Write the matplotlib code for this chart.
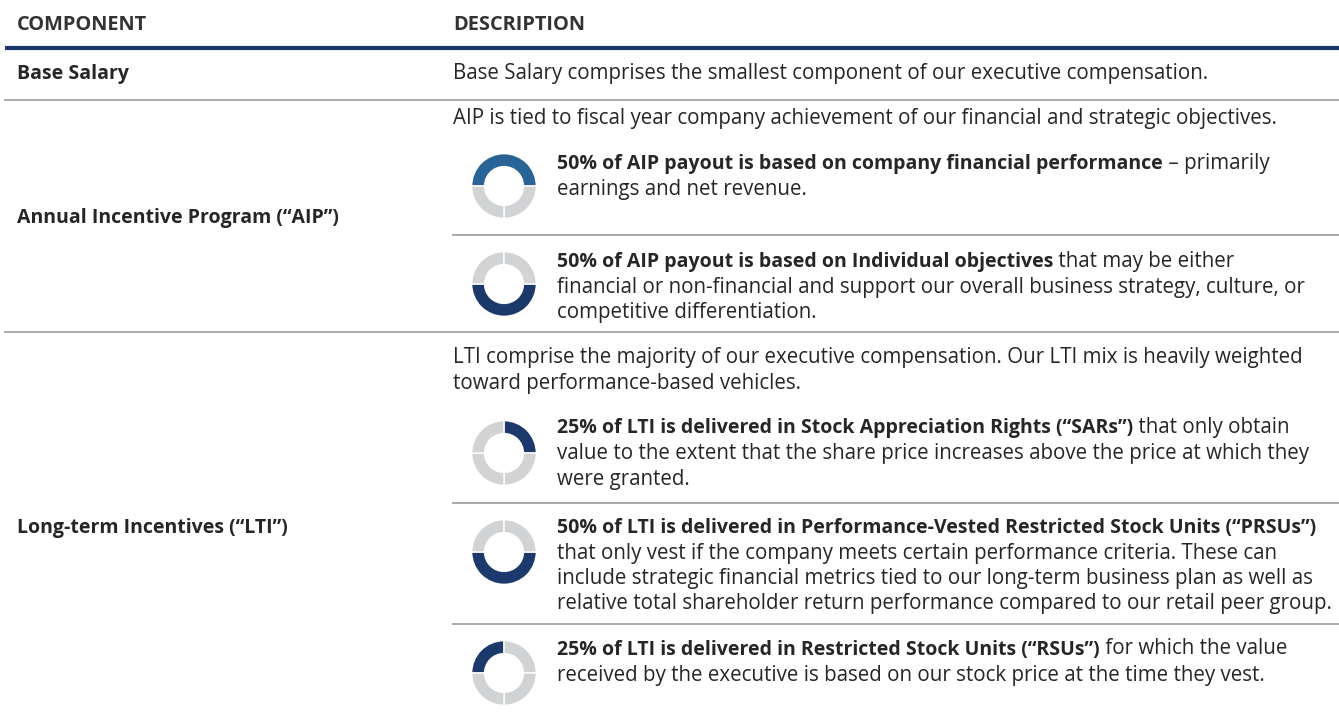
import matplotlib.pyplot as plt

plt.rcParams["font.family"] = ["Open Sans", "DejaVu Sans"]

W, H = 1339, 718
TEXT = "#262626"
NAVY = "#1b3a6b"
MID_BLUE = "#2a6496"
GREY = "#d1d3d4"
RULE = "#a9a9a9"

# table content
headers = ["COMPONENT", "DESCRIPTION"]
components = ["Base Salary", "Annual Incentive Program (“AIP”)", "Long-term Incentives (“LTI”)"]
intros = [
    ["Base Salary comprises the smallest component of our executive compensation."],
    ["AIP is tied to fiscal year company achievement of our financial and strategic objectives."],
    ["LTI comprise the majority of our executive compensation. Our LTI mix is heavily weighted",
     "toward performance-based vehicles."],
]

# donut items: share of the vehicle, where the highlighted arc starts
donut_pcts = [50, 50, 25, 50, 25]
donut_starts = [180, 0, 90, 0, 180]
donut_colors = [MID_BLUE, NAVY, NAVY, NAVY, NAVY]
donut_bold = [
    "50% of AIP payout is based on company financial performance",
    "50% of AIP payout is based on Individual objectives",
    "25% of LTI is delivered in Stock Appreciation Rights (“SARs”)",
    "50% of LTI is delivered in Performance-Vested Restricted Stock Units (“PRSUs”)",
    "25% of LTI is delivered in Restricted Stock Units (“RSUs”)",
]
donut_tail = [" – primarily", " that may be either", " that only obtain", "", " for which the value"]
donut_lines = [
    ["earnings and net revenue."],
    ["financial or non-financial and support our overall business strategy, culture, or",
     "competitive differentiation."],
    ["value to the extent that the share price increases above the price at which they",
     "were granted."],
    ["that only vest if the company meets certain performance criteria. These can",
     "include strategic financial metrics tied to our long-term business plan as well as",
     "relative total shareholder return performance compared to our retail peer group."],
    ["received by the executive is based on our stock price at the time they vest."],
]

# layout (pixels)
LEFT, COL2, DONUT_X, TEXT_X = 17, 453, 504, 557
LINE_H = 25.5
FS = 14.8      # regular body text
FSB = 14.0     # bold body text
DY = 1.5       # nudge text down a touch
row_label_y = [72, 216, 527]
intro_y = [72, 117, 356]
donut_y = [186, 284, 453, 552, 673]
donut_text_y = [162, 260, 427, 526, 648]
full_rules = [100, 332]
sub_rules = [235, 503, 624]
R = 33

fig = plt.figure(figsize=(W / 100, H / 100), dpi=100)
ax = fig.add_axes([0, 0, 1, 1])
ax.set_xlim(0, W)
ax.set_ylim(H, 0)
ax.axis("off")

# header
ax.text(LEFT, 24 + DY, headers[0], fontsize=14.4, fontweight="bold", color="#333333", va="center")
ax.text(COL2, 24 + DY, headers[1], fontsize=14.4, fontweight="bold", color="#333333", va="center")
ax.plot([5, W], [48, 48], color=NAVY, lw=3, solid_capstyle="butt")
for y in full_rules:
    ax.plot([5, W], [y, y], color=RULE, lw=1.4)
for y in sub_rules:
    ax.plot([COL2, W], [y, y], color=RULE, lw=1.4)

for label, y in zip(components, row_label_y):
    ax.text(LEFT, y + DY, label, fontsize=FSB, fontweight="bold", color=TEXT, va="center")

for lines, y in zip(intros, intro_y):
    for i, line in enumerate(lines):
        ax.text(COL2, y + DY + i * LINE_H, line, fontsize=FS, color=TEXT, va="center")

for pct, start, col, bold, tail, lines, cy, ty in zip(
        donut_pcts, donut_starts, donut_colors, donut_bold, donut_tail,
        donut_lines, donut_y, donut_text_y):
    dax = fig.add_axes([(DONUT_X - R) / W, 1 - (cy + R) / H, 2 * R / W, 2 * R / H])
    rest = 100 - pct
    vals = [pct] + [25] * (rest // 25)
    cols = [col] + [GREY] * (rest // 25)
    dax.pie(vals, colors=cols, startangle=start, counterclock=False,
            wedgeprops=dict(width=0.4, edgecolor="white", linewidth=1.0))
    dax.set_xlim(-1.02, 1.02)
    dax.set_ylim(-1.02, 1.02)
    dax.set_aspect("equal")
    dax.axis("off")

    t = ax.text(TEXT_X, ty + DY, bold, fontsize=FSB, fontweight="bold", color=TEXT, va="center")
    if tail:
        ax.annotate(tail, xy=(1, 0), xycoords=t, fontsize=FS, color=TEXT, va="bottom", ha="left")
    for i, line in enumerate(lines):
        ax.text(TEXT_X, ty + DY + (i + 1) * LINE_H, line, fontsize=FS, color=TEXT, va="center")

fig.savefig("out.png", dpi=100)
